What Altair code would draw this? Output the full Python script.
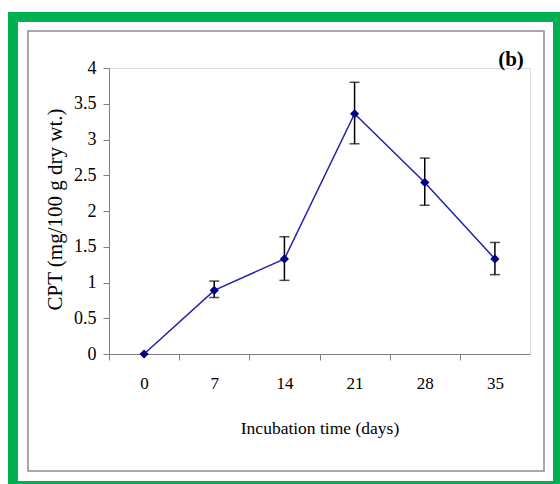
import altair as alt
import pandas as pd

days = [0, 7, 14, 21, 28, 35]
cpt = [0.0, 0.89, 1.33, 3.36, 2.40, 1.33]
err_low = [None, 0.79, 1.03, 2.94, 2.08, 1.11]
err_high = [None, 1.02, 1.64, 3.80, 2.74, 1.56]
y_ticks = [0, 0.5, 1, 1.5, 2, 2.5, 3, 3.5, 4]
x_ticks = [0, 7, 14, 21, 28, 35, 42]

df = pd.DataFrame({"day": days, "cpt": cpt, "lo": err_low, "hi": err_high})

W, H = 421, 286
half_band = W / 6 / 2
FONT = "Liberation Serif"

x_axis = alt.Axis(
    values=x_ticks,
    labelExpr="datum.value > 35 ? '' : datum.label",
    title="Incubation time (days)",
    tickOffset=-half_band,
    labelOffset=half_band,
    tickSize=6,
    tickColor="#7f7f7f",
    domainColor="#7f7f7f",
    labelPadding=15,
    labelFont=FONT,
    labelFontSize=17,
    labelColor="#000000",
    labelOverlap=False,
    titleFont=FONT,
    titleFontSize=17.5,
    titleFontWeight="normal",
    titleColor="#000000",
    titlePadding=28,
    grid=False,
)
y_axis = alt.Axis(
    values=y_ticks,
    format="~g",
    labelOverlap=False,
    title="CPT (mg/100 g dry wt.)",
    tickSize=6,
    tickColor="#7f7f7f",
    domainColor="#7f7f7f",
    labelPadding=7,
    labelFont=FONT,
    labelFontSize=18,
    labelColor="#000000",
    titleFont=FONT,
    titleFontSize=21,
    titleFontWeight="normal",
    titleColor="#000000",
    titlePadding=8,
    titleY=141,
    grid=False,
)
x_scale = alt.Scale(domain=[-3.5, 38.5], nice=False, zero=False)
y_scale = alt.Scale(domain=[0, 4], nice=False)


def X(field):
    return alt.X(field, scale=x_scale, axis=x_axis)


def Y(field):
    return alt.Y(field, scale=y_scale, axis=y_axis)


base = alt.Chart(df)
line = base.mark_line(color="#2323a3", strokeWidth=1.5).encode(x=X("day:Q"), y=Y("cpt:Q"))
pts = base.mark_point(shape="diamond", filled=True, size=85, color="#000080", opacity=1).encode(
    x=X("day:Q"), y=Y("cpt:Q")
)

eb = base.transform_filter("datum.lo != null")
rule = eb.mark_rule(color="#000000", strokeWidth=1.5).encode(x=X("day:Q"), y=Y("lo:Q"), y2="hi:Q")
cap_lo = eb.mark_tick(color="#000000", orient="horizontal", size=10, thickness=1.5).encode(
    x=X("day:Q"), y=Y("lo:Q")
)
cap_hi = eb.mark_tick(color="#000000", orient="horizontal", size=10, thickness=1.5).encode(
    x=X("day:Q"), y=Y("hi:Q")
)

one = alt.Chart(pd.DataFrame({"a": [0]}))
green = one.mark_rect(fill="transparent", stroke="#00b050", strokeWidth=10, clip=False).encode(
    x=alt.value(-96), x2=alt.value(449), y=alt.value(-51), y2=alt.value(418)
)
gray = one.mark_rect(fill="transparent", stroke="#8c8c8c", strokeWidth=1.5, clip=False).encode(
    x=alt.value(-81), x2=alt.value(435), y=alt.value(-37), y2=alt.value(403)
)
label_b = one.mark_text(text="(b)", font=FONT, fontSize=21, fontWeight="bold", color="#000000", align="center", baseline="middle").encode(
    x=alt.value(402), y=alt.value(-8)
)

chart = alt.layer(green, gray, rule, cap_lo, cap_hi, line, pts, label_b).properties(
    width=W,
    height=H,
    autosize=alt.AutoSizeParams(type="none"),
    padding={"left": 109, "top": 68, "right": 30, "bottom": 130},
).configure_view(strokeWidth=0).configure(background="#ffffff")

chart.save("out.html", embed_options={"renderer": "svg", "actions": False})
